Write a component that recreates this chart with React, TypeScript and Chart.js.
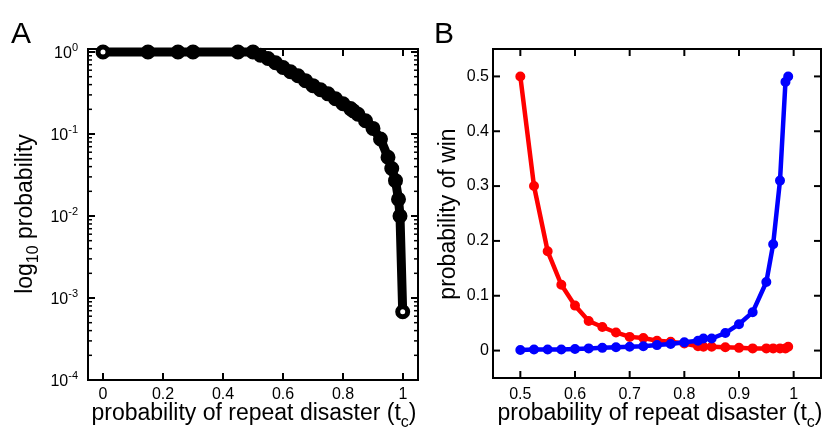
import React, { useEffect, useRef } from "react";
import { Chart, registerables } from "chart.js";

Chart.register(...registerables);

const FONT = "'Liberation Sans', Arial, Helvetica, sans-serif";

// ---------- Panel A data ----------
const aX = [0, 0.15, 0.25, 0.3, 0.45, 0.5, 0.525, 0.55, 0.575, 0.6, 0.625, 0.65, 0.675, 0.7, 0.725, 0.75, 0.775, 0.8, 0.825, 0.835, 0.85, 0.875, 0.9, 0.925, 0.95, 0.9625, 0.975, 0.985, 0.99, 0.999];
const aY = [1, 1, 1, 1, 1, 1, 0.912, 0.832, 0.741, 0.646, 0.575, 0.513, 0.447, 0.389, 0.347, 0.309, 0.269, 0.234, 0.204, 0.191, 0.174, 0.145, 0.117, 0.087, 0.052, 0.038, 0.027, 0.016, 0.01, 0.00068];
const aXTicks = [0, 0.2, 0.4, 0.6, 0.8, 1];
const aYTicks = [1e-4, 1e-3, 1e-2, 1e-1, 1];
const aYExponents = ["-4", "-3", "-2", "-1", "0"];

// ---------- Panel B data ----------
const bX = [0.5, 0.525, 0.55, 0.575, 0.6, 0.625, 0.65, 0.675, 0.7, 0.725, 0.75, 0.775, 0.8, 0.825, 0.835, 0.85, 0.875, 0.9, 0.925, 0.95, 0.9625, 0.975, 0.985, 0.99];
const bRed = [0.5, 0.3, 0.181, 0.12, 0.082, 0.054, 0.043, 0.033, 0.025, 0.023, 0.018, 0.016, 0.013, 0.008, 0.007, 0.007, 0.006, 0.005, 0.004, 0.004, 0.004, 0.004, 0.004, 0.007];
const bBlue = [0.001, 0.002, 0.002, 0.002, 0.003, 0.004, 0.005, 0.006, 0.007, 0.008, 0.01, 0.012, 0.015, 0.018, 0.022, 0.022, 0.032, 0.048, 0.07, 0.125, 0.194, 0.31, 0.49, 0.5];
const bXTicks = [0.5, 0.6, 0.7, 0.8, 0.9, 1];
const bYTicks = [0, 0.1, 0.2, 0.3, 0.4, 0.5];

type Seg = { t: string; size: number; dy?: number };

function drawRich(ctx: CanvasRenderingContext2D, segs: Seg[], x: number, y: number, rotate: boolean, align: "center" | "left" | "right" = "center") {
  ctx.save();
  ctx.translate(x, y);
  if (rotate) ctx.rotate(-Math.PI / 2);
  let total = 0;
  const widths = segs.map((s) => {
    ctx.font = `${s.size}px ${FONT}`;
    const w = ctx.measureText(s.t).width;
    total += w;
    return w;
  });
  let cx = align === "center" ? -total / 2 : align === "right" ? -total : 0;
  ctx.textBaseline = "alphabetic";
  ctx.textAlign = "left";
  ctx.fillStyle = "#000";
  segs.forEach((s, i) => {
    ctx.font = `${s.size}px ${FONT}`;
    ctx.fillText(s.t, cx, s.dy || 0);
    cx += widths[i];
  });
  ctx.restore();
}

const framePlugin = {
  id: "frame",
  beforeDatasetsDraw(chart: any, _args: any, opts: any) {
    const { ctx, chartArea } = chart;
    const { left, top, right, bottom } = chartArea;
    const xs = chart.scales.x;
    const ys = chart.scales.y;
    ctx.save();
    ctx.strokeStyle = "#000";
    ctx.lineWidth = 2;
    ctx.strokeRect(left, top, right - left, bottom - top);
    const major = opts.major || 7;
    const minor = opts.minor || 4;
    const seg = (x1: number, y1: number, x2: number, y2: number) => {
      ctx.beginPath();
      ctx.moveTo(x1, y1);
      ctx.lineTo(x2, y2);
      ctx.stroke();
    };
    for (const v of opts.xTicks || []) {
      const px = xs.getPixelForValue(v);
      seg(px, bottom, px, bottom - major);
      seg(px, top, px, top + major);
    }
    for (const v of opts.yTicks || []) {
      const py = ys.getPixelForValue(v);
      seg(left, py, left + major, py);
      seg(right, py, right - major, py);
    }
    if (opts.logMinor) {
      ctx.lineWidth = 1.5;
      for (let d = -4; d < 0; d++) {
        for (let m = 2; m <= 9; m++) {
          const v = m * Math.pow(10, d);
          const py = ys.getPixelForValue(v);
          if (py < top) continue;
          seg(left, py, left + minor, py);
          seg(right, py, right - minor, py);
        }
      }
    }
    ctx.restore();
  },
  afterDraw(chart: any, _args: any, opts: any) {
    const { ctx, chartArea } = chart;
    const ys = chart.scales.y;
    if (opts.logLabels) {
      opts.logLabels.values.forEach((v: number, i: number) => {
        const py = ys.getPixelForValue(v);
        drawRich(ctx, [
          { t: "10", size: 16, dy: 6 },
          { t: opts.logLabels.exps[i], size: 11, dy: -1 },
        ], chartArea.left - 10, py, false, "right");
      });
    }
    for (const t of opts.texts || []) {
      drawRich(ctx, t.segs, t.x, t.y, !!t.rotate, t.align || "center");
    }
  },
};

function makeChart(canvas: HTMLCanvasElement, cfg: any) {
  return new Chart(canvas, { ...cfg, plugins: [framePlugin] });
}

export default function App() {
  const refA = useRef<HTMLCanvasElement>(null);
  const refB = useRef<HTMLCanvasElement>(null);

  useEffect(() => {
    const tickFont = { family: FONT, size: 16 };
    const chartA = makeChart(refA.current!, {
      type: "line",
      data: {
        datasets: [
          {
            data: aX.map((x, i) => ({ x, y: aY[i] })),
            borderColor: "#000",
            borderWidth: 9,
            borderJoinStyle: "round",
            borderCapStyle: "round",
            pointRadius: 5,
            pointBorderWidth: 5,
            pointBorderColor: "#000",
            pointBackgroundColor: aX.map((_, i) => (i === 0 || i === aX.length - 1 ? "#fff" : "#000")),
            tension: 0,
            clip: false,
          },
        ],
      },
      options: {
        animation: false,
        responsive: false,
        devicePixelRatio: 1,
        layout: { padding: { left: 0, top: 49, right: 12, bottom: 0 } },
        plugins: {
          legend: { display: false },
          tooltip: { enabled: false },
          frame: {
            xTicks: aXTicks,
            yTicks: aYTicks,
            logMinor: true,
            major: 7,
            minor: 4,
            logLabels: { values: aYTicks, exps: aYExponents },
            texts: [
              { segs: [{ t: "A", size: 30 }], x: 11, y: 43, align: "left" },
              {
                segs: [
                  { t: "probability of repeat disaster (t", size: 23 },
                  { t: "c", size: 16, dy: 7 },
                  { t: ")", size: 23 },
                ],
                x: 254,
                y: 420,
              },
              {
                segs: [
                  { t: "log", size: 23 },
                  { t: "10", size: 16, dy: 6 },
                  { t: " probability", size: 23 },
                ],
                x: 32,
                y: 214,
                rotate: true,
              },
            ],
          },
        },
        scales: {
          x: {
            type: "linear",
            min: -0.05,
            max: 1.05,
            grid: { display: false, drawTicks: false },
            border: { display: false },
            afterBuildTicks: (s: any) => {
              s.ticks = aXTicks.map((v) => ({ value: v }));
            },
            ticks: { font: tickFont, color: "#000", padding: 5, autoSkip: false, maxRotation: 0, callback: (v: any) => String(v) },
            afterFit: (s: any) => {
              s.height = 49;
            },
          },
          y: {
            type: "logarithmic",
            min: 1e-4,
            max: 1.088,
            grid: { display: false, drawTicks: false },
            border: { display: false },
            ticks: { display: false },
            afterFit: (s: any) => {
              s.width = 88;
            },
          },
        },
      },
    });

    const chartB = makeChart(refB.current!, {
      type: "line",
      data: {
        datasets: [
          {
            label: "red",
            data: bX.map((x, i) => ({ x, y: bRed[i] })),
            borderColor: "#ff0000",
            backgroundColor: "#ff0000",
            borderWidth: 4.5,
            pointRadius: 4,
            pointBorderWidth: 2,
            pointBackgroundColor: "#ff0000",
            pointBorderColor: "#ff0000",
            tension: 0,
            clip: false,
            order: 1,
          },
          {
            label: "blue",
            data: bX.map((x, i) => ({ x, y: bBlue[i] })),
            borderColor: "#0000ff",
            backgroundColor: "#0000ff",
            borderWidth: 4.5,
            pointRadius: 4,
            pointBorderWidth: 2,
            pointBackgroundColor: "#0000ff",
            pointBorderColor: "#0000ff",
            tension: 0,
            clip: false,
            order: 0,
          },
        ],
      },
      options: {
        animation: false,
        responsive: false,
        devicePixelRatio: 1,
        layout: { padding: { left: 0, top: 49, right: 5, bottom: 0 } },
        plugins: {
          legend: { display: false },
          tooltip: { enabled: false },
          frame: {
            xTicks: bXTicks,
            yTicks: bYTicks,
            major: 7,
            texts: [
              { segs: [{ t: "B", size: 30 }], x: 4, y: 43, align: "left" },
              {
                segs: [
                  { t: "probability of repeat disaster (t", size: 23 },
                  { t: "c", size: 16, dy: 7 },
                  { t: ")", size: 23 },
                ],
                x: 230,
                y: 420,
              },
              { segs: [{ t: "probability of win", size: 23 }], x: 25, y: 214, rotate: true },
            ],
          },
        },
        scales: {
          x: {
            type: "linear",
            min: 0.45,
            max: 1.05,
            grid: { display: false, drawTicks: false },
            border: { display: false },
            afterBuildTicks: (s: any) => {
              s.ticks = bXTicks.map((v) => ({ value: v }));
            },
            ticks: { font: tickFont, color: "#000", padding: 7, autoSkip: false, maxRotation: 0, callback: (v: any) => String(v) },
            afterFit: (s: any) => {
              s.height = 51;
            },
          },
          y: {
            type: "linear",
            min: -0.05,
            max: 0.55,
            grid: { display: false, drawTicks: false },
            border: { display: false },
            afterBuildTicks: (s: any) => {
              s.ticks = bYTicks.map((v) => ({ value: v }));
            },
            ticks: { font: tickFont, color: "#000", padding: 4, autoSkip: false, callback: (v: any) => String(v) },
            afterFit: (s: any) => {
              s.width = 63;
            },
          },
        },
      },
    });

    return () => {
      chartA.destroy();
      chartB.destroy();
    };
  }, []);

  return (
    <div style={{ position: "fixed", left: 0, top: 0, width: 827, height: 429, background: "#fff", overflow: "hidden" }}>
      <canvas ref={refA} width={430} height={429} style={{ position: "absolute", left: 0, top: 0, width: 430, height: 429 }} />
      <canvas ref={refB} width={397} height={429} style={{ position: "absolute", left: 430, top: 0, width: 397, height: 429 }} />
    </div>
  );
}
